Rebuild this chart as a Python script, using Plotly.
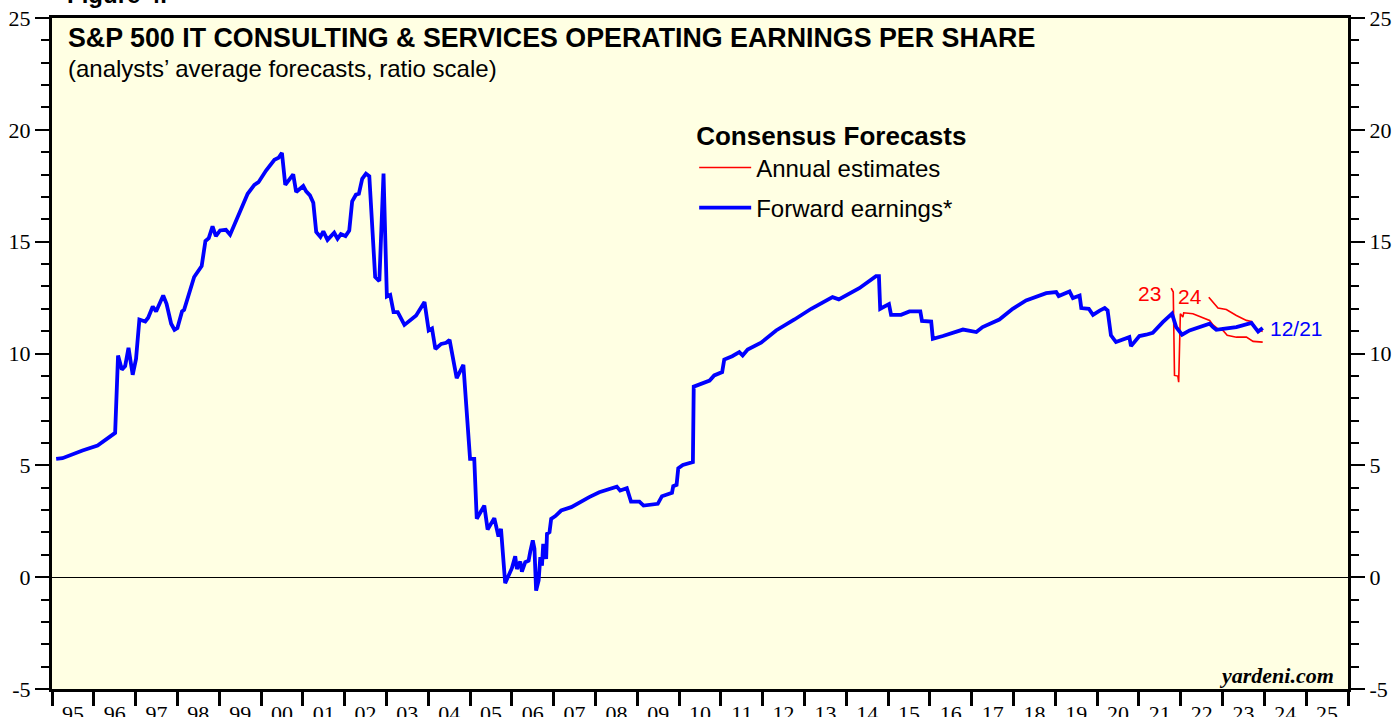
"""
S&P 500 IT Consulting & Services operating EPS (yardeni 스타일 재현)
결과: out.html
"""
import plotly.graph_objects as go

# ── 데이터 (그림에서 읽은 값, 연도는 소수 표기) ─────────────────────────────
fwd_year = [
    1995.10, 1995.25, 1995.73, 1996.09, 1996.37, 1996.51, 1996.58, 1996.67, 1996.75, 1996.83,
    1996.93, 1997.01, 1997.09, 1997.23, 1997.30, 1997.41, 1997.49, 1997.66, 1997.74, 1997.85,
    1997.93, 1998.00, 1998.11, 1998.16, 1998.40, 1998.58, 1998.67, 1998.75, 1998.84, 1998.92,
    1999.02, 1999.16, 1999.26, 1999.44, 1999.56, 1999.68, 1999.84, 1999.94, 2000.12, 2000.32,
    2000.42, 2000.50, 2000.58, 2000.77, 2000.84, 2001.01, 2001.08, 2001.17, 2001.25, 2001.32,
    2001.42, 2001.49, 2001.59, 2001.75, 2001.83, 2001.91, 2002.02, 2002.11, 2002.18, 2002.27,
    2002.34, 2002.42, 2002.51, 2002.59, 2002.73, 2002.83, 2002.93, 2003.01, 2003.09, 2003.17,
    2003.27, 2003.43, 2003.71, 2003.91, 2004.01, 2004.09, 2004.17, 2004.31, 2004.43, 2004.51,
    2004.68, 2004.84, 2005.00, 2005.10, 2005.16, 2005.34, 2005.42, 2005.58, 2005.68, 2005.74,
    2005.84, 2006.00, 2006.08, 2006.12, 2006.20, 2006.24, 2006.32, 2006.40, 2006.44, 2006.50,
    2006.54, 2006.58, 2006.64, 2006.68, 2006.72, 2006.75, 2006.82, 2006.84, 2006.90, 2006.94,
    2007.04, 2007.18, 2007.42, 2007.61, 2007.85, 2008.09, 2008.33, 2008.51, 2008.59, 2008.75,
    2008.85, 2009.05, 2009.15, 2009.49, 2009.59, 2009.83, 2009.86, 2009.94, 2009.98, 2010.09,
    2010.33, 2010.35, 2010.73, 2010.84, 2011.03, 2011.08, 2011.27, 2011.44, 2011.52, 2011.64,
    2011.96, 2012.32, 2012.76, 2013.16, 2013.67, 2013.82, 2014.31, 2014.71, 2014.78, 2014.81,
    2015.02, 2015.07, 2015.31, 2015.51, 2015.77, 2015.81, 2016.03, 2016.07, 2016.31, 2016.79,
    2017.11, 2017.26, 2017.66, 2017.98, 2018.30, 2018.78, 2019.02, 2019.08, 2019.34, 2019.42,
    2019.58, 2019.62, 2019.80, 2019.90, 2020.06, 2020.18, 2020.25, 2020.33, 2020.45, 2020.77,
    2020.81, 2021.01, 2021.17, 2021.33, 2021.57, 2021.79, 2021.89, 2022.03, 2022.21, 2022.53,
    2022.69, 2022.77, 2022.85, 2023.01, 2023.33, 2023.69, 2023.77, 2023.85, 2023.96,
]
fwd_eps = [
    5.29, 5.32, 5.66, 5.89, 6.26, 6.45, 9.91, 9.28, 9.44, 10.25,
    9.05, 9.76, 11.52, 11.43, 11.60, 12.10, 11.88, 12.59, 12.22, 11.33,
    11.06, 11.14, 11.88, 11.95, 13.42, 13.91, 15.03, 15.16, 15.68, 15.25,
    15.50, 15.53, 15.31, 16.06, 16.55, 17.14, 17.54, 17.66, 18.18, 18.66,
    18.75, 18.97, 17.54, 18.01, 17.22, 17.49, 17.25, 17.07, 16.74, 15.43,
    15.21, 15.46, 15.08, 15.40, 15.13, 15.34, 15.25, 15.50, 16.80, 17.10,
    17.14, 17.81, 18.04, 17.93, 13.42, 13.24, 18.04, 12.55, 12.62, 11.85,
    11.85, 11.28, 11.70, 12.30, 11.03, 11.12, 10.20, 10.43, 10.48, 10.61,
    8.90, 9.49, 5.29, 5.29, 2.61, 3.20, 2.13, 2.64, 1.82, 2.16,
    -0.27, 0.40, 0.94, 0.37, 0.70, 0.25, 0.67, 0.74, 1.14, 1.64,
    1.27, -0.60, -0.15, 0.89, 0.52, 1.49, 0.82, 1.94, 2.01, 2.61,
    2.73, 2.98, 3.13, 3.35, 3.58, 3.80, 3.92, 4.05, 3.87, 3.98,
    3.38, 3.38, 3.20, 3.28, 3.62, 3.77, 4.07, 4.13, 4.87, 5.02,
    5.15, 8.52, 8.79, 9.02, 9.17, 9.73, 9.88, 10.06, 9.91, 10.18,
    10.48, 11.03, 11.52, 12.00, 12.52, 12.42, 12.92, 13.46, 13.46, 12.00,
    12.21, 11.73, 11.73, 11.88, 11.88, 11.46, 11.43, 10.66, 10.78, 11.07,
    10.96, 11.18, 11.52, 12.00, 12.37, 12.70, 12.75, 12.57, 12.77, 12.48,
    12.59, 12.03, 12.00, 11.73, 11.92, 12.03, 11.92, 10.81, 10.51, 10.73,
    10.33, 10.78, 10.84, 10.93, 11.40, 11.78, 11.18, 10.84, 11.03, 11.25,
    11.33, 11.18, 11.06, 11.10, 11.18, 11.37, 11.18, 10.98, 11.14,
]

# 연간 추정치 (2023, 2024)
est23_year = [2021.77, 2021.82, 2021.85, 2021.93, 2021.95, 2021.99, 2022.05, 2022.07, 2022.29,
              2022.53, 2022.69, 2022.77, 2022.89, 2023.01, 2023.11, 2023.33, 2023.57, 2023.73, 2023.96]
est23_eps = [12.92, 12.75, 9.02, 8.99, 8.72, 11.78, 11.63, 11.82, 11.78,
             11.58, 11.48, 11.28, 11.10, 11.03, 10.81, 10.73, 10.73, 10.54, 10.51]
est24_year = [2022.67, 2022.77, 2022.89, 2023.09, 2023.33, 2023.57, 2023.69, 2023.81, 2023.96]
est24_eps = [12.52, 12.30, 12.03, 11.97, 11.70, 11.48, 11.43, 11.10, 10.98]

year_edges = list(range(1995, 2027))
year_mid = [y + 0.5 for y in range(1995, 2026)]
year_labels = [f"{y % 100:02d}" for y in range(1995, 2026)]
eps_ticks = [-5, 0, 5, 10, 15, 20, 25]
eps_labels = [str(v) for v in eps_ticks]   # 하이픈 마이너스 그대로

SANS = "Liberation Sans, Arial, sans-serif"
SERIF = "Liberation Serif, Times New Roman, serif"

# ── 그림 ────────────────────────────────────────────────────────────────────
fig = go.Figure()
fig.add_trace(go.Scatter(x=est23_year, y=est23_eps, mode="lines", name="Annual estimates",
                         line=dict(color="#ff0000", width=1.6), legendgroup="a"))
fig.add_trace(go.Scatter(x=est24_year, y=est24_eps, mode="lines", name="Annual estimates",
                         line=dict(color="#ff0000", width=1.6), legendgroup="a", showlegend=False))
fig.add_trace(go.Scatter(x=fwd_year, y=fwd_eps, mode="lines", name="Forward earnings*",
                         line=dict(color="#0000ff", width=3.8), legendgroup="b",
                         xaxis="x2", yaxis="y2"))

yaxis_common = dict(
    range=[-5, 25], tickvals=eps_ticks, ticktext=eps_labels,
    ticks="outside", ticklen=14, tickwidth=2, tickcolor="black",
    minor=dict(dtick=1, tick0=0, ticks="outside", ticklen=8, tickwidth=2, tickcolor="black"),
    showgrid=False, automargin=False, tickfont=dict(family=SERIF, size=22, color="black"),
    showline=True, linewidth=3, linecolor="black",
)

fig.update_layout(
    template="none",
    width=1393, height=717,
    margin=dict(l=52, r=45, t=18, b=28, autoexpand=False),
    paper_bgcolor="white", plot_bgcolor="#ffffe3",
    xaxis=dict(range=[1995, 2026], tickvals=year_mid, ticktext=year_labels,
               ticks="outside", ticklen=3, tickcolor="rgba(0,0,0,0)",
               showgrid=False, zeroline=False, showline=True, linewidth=3, linecolor="black",
               mirror=True, automargin=False,
               tickfont=dict(family=SERIF, size=22, color="black")),
    xaxis2=dict(range=[1995, 2026], overlaying="x", anchor="y", side="bottom",
                tickvals=year_edges, ticks="outside", ticklen=16, tickwidth=3, tickcolor="black",
                showticklabels=False, showgrid=False, zeroline=False, automargin=False),
    yaxis=dict(**yaxis_common, mirror=True, zeroline=True, zerolinecolor="black", zerolinewidth=1),
    yaxis2=dict(**yaxis_common, overlaying="y", side="right", anchor="x", zeroline=False),
    legend=dict(x=0.4955, y=0.8605, xanchor="left", yanchor="top", itemwidth=52,
                bgcolor="rgba(0,0,0,0)", borderwidth=0, traceorder="grouped", tracegroupgap=6,
                title=dict(text="<b>Consensus Forecasts</b>", font=dict(family=SANS, size=26, color="black")),
                font=dict(family=SANS, size=24, color="black")),
    showlegend=True,
)

# 제목, 부제, 라벨
fig.add_annotation(text="<b>Figure 4.</b>", xref="paper", yref="paper", x=0.01, y=1,
                   xanchor="left", yanchor="bottom", yshift=8, showarrow=False,
                   font=dict(family=SANS, size=24, color="black"))
fig.add_annotation(text="<b>S&P 500 IT CONSULTING & SERVICES OPERATING EARNINGS PER SHARE</b>",
                   xref="paper", yref="paper", x=0.0105, y=0.9706, xanchor="left", yanchor="middle",
                   showarrow=False, font=dict(family=SANS, size=26.8, color="black"))
fig.add_annotation(text="(analysts’ average forecasts, ratio scale)",
                   xref="paper", yref="paper", x=0.0105, y=0.9244, xanchor="left", yanchor="middle",
                   showarrow=False, font=dict(family=SANS, size=24, color="black"))
fig.add_annotation(text="<b><i>yardeni.com</i></b>", xref="paper", yref="paper", x=0.9907, y=0.0198,
                   xanchor="right", yanchor="middle", showarrow=False,
                   font=dict(family=SERIF, size=22, color="black"))
fig.add_annotation(text="23", x=2021.25, y=12.67, showarrow=False,
                   font=dict(family=SANS, size=21, color="#ff0000"))
fig.add_annotation(text="24", x=2022.23, y=12.54, showarrow=False,
                   font=dict(family=SANS, size=21, color="#ff0000"))
fig.add_annotation(text="12/21", x=2024.77, y=11.1, showarrow=False,
                   font=dict(family=SANS, size=21, color="#0000ff"))

fig.write_html("out.html", config={"displayModeBar": False},
               post_script="document.body.style.margin='0';")
